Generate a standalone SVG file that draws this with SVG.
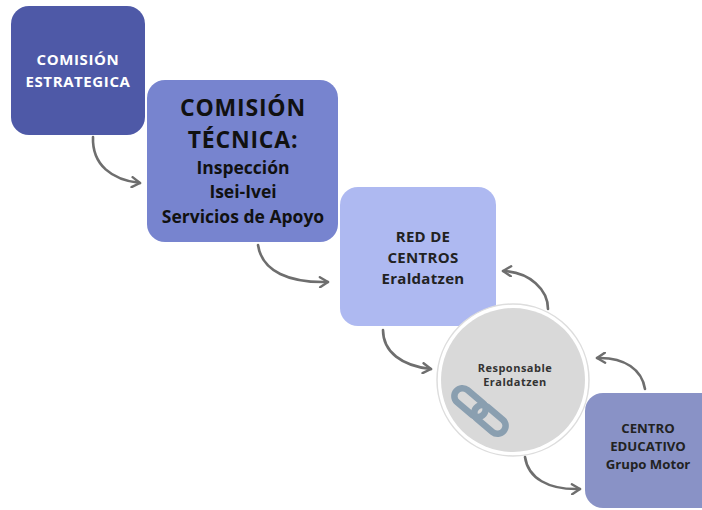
<svg xmlns="http://www.w3.org/2000/svg" width="702" height="510" viewBox="0 0 702 510">
<defs>
<style>
.t{font-family:"Open Sans","Noto Sans","Liberation Sans",sans-serif;font-weight:bold;text-anchor:middle}
.c{fill:none;stroke:#6e6e6e;stroke-width:2.6;stroke-linecap:round}
</style>
<marker id="ah" viewBox="0 0 12 12" refX="10" refY="6" markerWidth="12" markerHeight="12" markerUnits="userSpaceOnUse" orient="auto">
<path d="M2,1 L10,6 L2,11" fill="none" stroke="#6e6e6e" stroke-width="2.4" stroke-linecap="round" stroke-linejoin="round"/>
</marker>
</defs>
<rect width="702" height="510" fill="#ffffff"/>
<g id="comision-estrategica">
<rect x="11" y="6" width="134" height="129" rx="18" fill="#4e59a7"/>
<text class="t" x="78" y="65" font-size="15" letter-spacing="0.6" fill="#ffffff">COMISIÓN</text>
<text class="t" x="78" y="87" font-size="15" letter-spacing="0.6" fill="#ffffff">ESTRATEGICA</text>
</g>
<g id="comision-tecnica">
<rect x="147" y="80" width="191" height="162" rx="18" fill="#7784cf"/>
<text class="t" x="243" y="116" font-size="23" letter-spacing="0.8" fill="#111111">COMISIÓN</text>
<text class="t" x="243" y="148" font-size="23" letter-spacing="0.8" fill="#111111">TÉCNICA:</text>
<text class="t" x="243" y="174" font-size="17.5" fill="#111111">Inspección</text>
<text class="t" x="243" y="198" font-size="17.5" fill="#111111">Isei-Ivei</text>
<text class="t" x="243" y="223" font-size="17.5" fill="#111111">Servicios de Apoyo</text>
</g>
<g id="red-de-centros">
<rect x="340" y="187" width="156" height="139" rx="18" fill="#aeb9f1"/>
<text class="t" x="423" y="242" font-size="15" letter-spacing="0.3" fill="#222222">RED DE</text>
<text class="t" x="423" y="263" font-size="15" letter-spacing="0.3" fill="#222222">CENTROS</text>
<text class="t" x="423" y="284" font-size="15" letter-spacing="0.3" fill="#222222">Eraldatzen</text>
</g>
<g id="centro-educativo">
<rect x="585" y="393" width="140" height="115" rx="18" fill="#8992c6"/>
<text class="t" x="648" y="433" font-size="13.2" fill="#222222">CENTRO</text>
<text class="t" x="648" y="451" font-size="13.2" fill="#222222">EDUCATIVO</text>
<text class="t" x="648" y="469" font-size="13.2" fill="#222222">Grupo Motor</text>
</g>
<g id="responsable">
<circle cx="513" cy="380" r="76" fill="#ffffff" stroke="#dddddd" stroke-width="1.5"/>
<circle cx="513" cy="380" r="72" fill="#d9d9d9"/>
<text class="t" x="515" y="372" font-size="11" letter-spacing="0.5" fill="#333333">Responsable</text>
<text class="t" x="515" y="386" font-size="11" letter-spacing="0.5" fill="#333333">Eraldatzen</text>
<g transform="translate(480,411) rotate(40)" fill="none" stroke="#8a9fb0" stroke-width="6.5">
<rect x="-31" y="-8" width="36" height="16" rx="8"/>
<rect x="-5" y="-8" width="36" height="16" rx="8"/>
</g>
</g>
<g id="connectors">
<path class="c" d="M93,137 C92,165 112,180 140,183" marker-end="url(#ah)"/>
<path class="c" d="M258,245 C262,272 290,283 328,282" marker-end="url(#ah)"/>
<path class="c" d="M383,330 C383,352 402,366 431,369" marker-end="url(#ah)"/>
<path class="c" d="M548,309 C548,290 530,272 503,271" marker-end="url(#ah)"/>
<path class="c" d="M645,389 C642,370 625,357 597,358" marker-end="url(#ah)"/>
<path class="c" d="M525,457 C528,478 548,490 580,489" marker-end="url(#ah)"/>
</g>
</svg>
